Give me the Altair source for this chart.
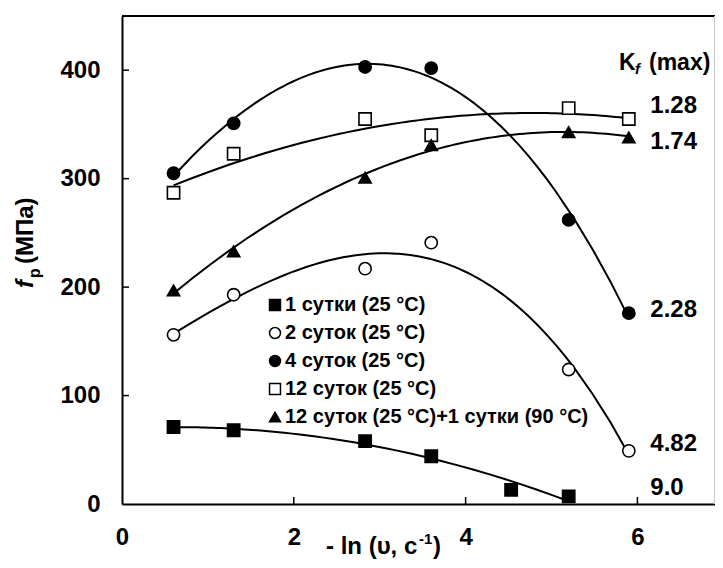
import altair as alt
import pandas as pd

# ---------------- data ----------------
series = ["1 сутки (25 °C)", "2 суток (25 °C)", "4 суток (25 °C)",
          "12 суток (25 °C)", "12 суток (25 °C)+1 сутки (90 °C)"]
x_1d = [0.6, 1.3, 2.83, 3.6, 4.53, 5.2]
y_1d = [71, 68, 58, 44, 13, 7]
x_2d = [0.6, 1.3, 2.83, 3.6, 5.2, 5.9]
y_2d = [156, 193, 217, 241, 124, 49]
x_4d = [0.6, 1.3, 2.83, 3.6, 5.2, 5.9]
y_4d = [305, 351, 403, 402, 262, 176]
x_12d = [0.6, 1.3, 2.83, 3.6, 5.2, 5.9]
y_12d = [287, 323, 355, 340, 365, 355]
x_12d1 = [0.6, 1.3, 2.83, 3.6, 5.2, 5.9]
y_12d1 = [197, 233, 301, 331, 343, 338]
fit_order = [2, 3, 3, 2, 2]

kf_labels = ["1.28", "1.74", "2.28", "4.82", "9.0"]
kf_y = [367, 334, 179, 55, 14.5]
kf_x = 6.15

x_ticks = [0, 2, 4, 6]
y_ticks = [0, 100, 200, 300, 400]

shapes = ["square", "circle", "circle", "square", "triangle-up"]
fills = ["black", "white", "black", "white", "black"]

rows = []
for name, xs, ys in zip(series, [x_1d, x_2d, x_4d, x_12d, x_12d1],
                        [y_1d, y_2d, y_4d, y_12d, y_12d1]):
    for a, b in zip(xs, ys):
        rows.append({"series": name, "x": a, "y": b})
df = pd.DataFrame(rows)

FONT = "Liberation Sans"
W, H = 593, 488
PX_PER_X = 85.9

xs_scale = alt.Scale(domain=[0, W / PX_PER_X], nice=False, zero=False)
ys_scale = alt.Scale(domain=[0, 450], nice=False, zero=False)

x_axis = alt.Axis(values=x_ticks, format="d", grid=False, ticks=False, domainWidth=2,
                  domainColor="black", labelFont=FONT, labelFontSize=24,
                  labelFontWeight="bold", labelColor="black", labelPadding=21,
                  labelFlush=False, title=None)
y_axis = alt.Axis(values=y_ticks, format="d", grid=False, ticks=False, domainWidth=2,
                  domainColor="black", labelFont=FONT, labelFontSize=24,
                  labelFontWeight="bold", labelColor="black", labelPadding=22,
                  labelFlush=False, title=None)

legend = alt.Legend(orient="none", legendX=143, legendY=279, title=None,
                    labelFont=FONT, labelFontSize=20, labelFontWeight="bold",
                    labelColor="black", labelLimit=400, symbolSize=120,
                    symbolStrokeWidth=1.5, symbolStrokeColor="black",
                    rowPadding=8, labelOffset=0, padding=0)

points = alt.Chart(df).mark_point(size=150, strokeWidth=1.6, opacity=1).encode(
    x=alt.X("x:Q", scale=xs_scale, axis=x_axis),
    y=alt.Y("y:Q", scale=ys_scale, axis=y_axis),
    shape=alt.Shape("series:N", scale=alt.Scale(domain=series, range=shapes), legend=legend),
    fill=alt.Fill("series:N", scale=alt.Scale(domain=series, range=fills), legend=legend),
    stroke=alt.Stroke("series:N", scale=alt.Scale(domain=series, range=["black"] * 5), legend=legend),
)

lines = []
for name, k in zip(series, fit_order):
    ln = alt.Chart(df).transform_filter(
        alt.datum.series == name
    ).transform_regression("x", "y", method="poly", order=k).mark_line(
        color="black", strokeWidth=2
    ).encode(
        x=alt.X("x:Q", scale=xs_scale),
        y=alt.Y("y:Q", scale=ys_scale),
    )
    lines.append(ln)

xt = alt.Chart(pd.DataFrame({"v": x_ticks[1:]})).mark_rule(color="black", strokeWidth=1.5).encode(
    x=alt.X("v:Q", scale=xs_scale), y=alt.value(H), y2=alt.value(H - 7))
yt = alt.Chart(pd.DataFrame({"v": y_ticks[1:]})).mark_rule(color="black", strokeWidth=1.5).encode(
    y=alt.Y("v:Q", scale=ys_scale), x=alt.value(0), x2=alt.value(7))

top = alt.Chart(pd.DataFrame({"v": [0]})).mark_rule(color="black", strokeWidth=2).encode(
    x=alt.value(0), x2=alt.value(W), y=alt.value(0))
right = alt.Chart(pd.DataFrame({"v": [0]})).mark_rule(color="#c8c8c8", strokeWidth=1).encode(
    x=alt.value(W - 0.5), y=alt.value(0), y2=alt.value(H))

kf = alt.Chart(pd.DataFrame({"t": kf_labels, "y": kf_y, "x": [kf_x] * len(kf_labels)})).mark_text(
    font=FONT, fontSize=24, fontWeight="bold", align="left", baseline="middle", color="black"
).encode(x=alt.X("x:Q", scale=xs_scale), y=alt.Y("y:Q", scale=ys_scale), text="t:N")


def label(txt, px, py, size=24, style="normal", align="left", angle=0):
    return alt.Chart(pd.DataFrame({"t": [txt]})).mark_text(
        font=FONT, fontSize=size, fontWeight="bold", fontStyle=style, align=align,
        baseline="middle", angle=angle, color="black"
    ).encode(x=alt.value(px - 122), y=alt.value(py - 16), text="t:N")


annotations = [
    # K_f (max) header
    label("K", 619, 63, 23),
    label("f", 635, 69, 15, "italic"),
    label("(max)", 649, 63, 23),
    # x axis title: - ln (υ, c^-1)
    label("- ln (υ, c", 326, 547, 24),
    label("-1", 419, 539, 15),
    label(")", 433, 547, 24),
    # y axis title: f_p (МПа)
    label("f", 26, 288, 24, "italic", angle=270),
    label("p", 35, 278, 16, angle=270),
    label("(МПа)", 26, 264, 24, angle=270),
]

chart = alt.layer(
    *lines, points, xt, yt, top, right, kf, *annotations
).properties(
    width=W, height=H,
    padding={"left": 114, "top": 8, "right": 0, "bottom": 56},
    autosize=alt.AutoSizeParams(type="none"),
).configure_view(stroke=None)

chart.save("out.html", embed_options={"renderer": "svg", "actions": False})
